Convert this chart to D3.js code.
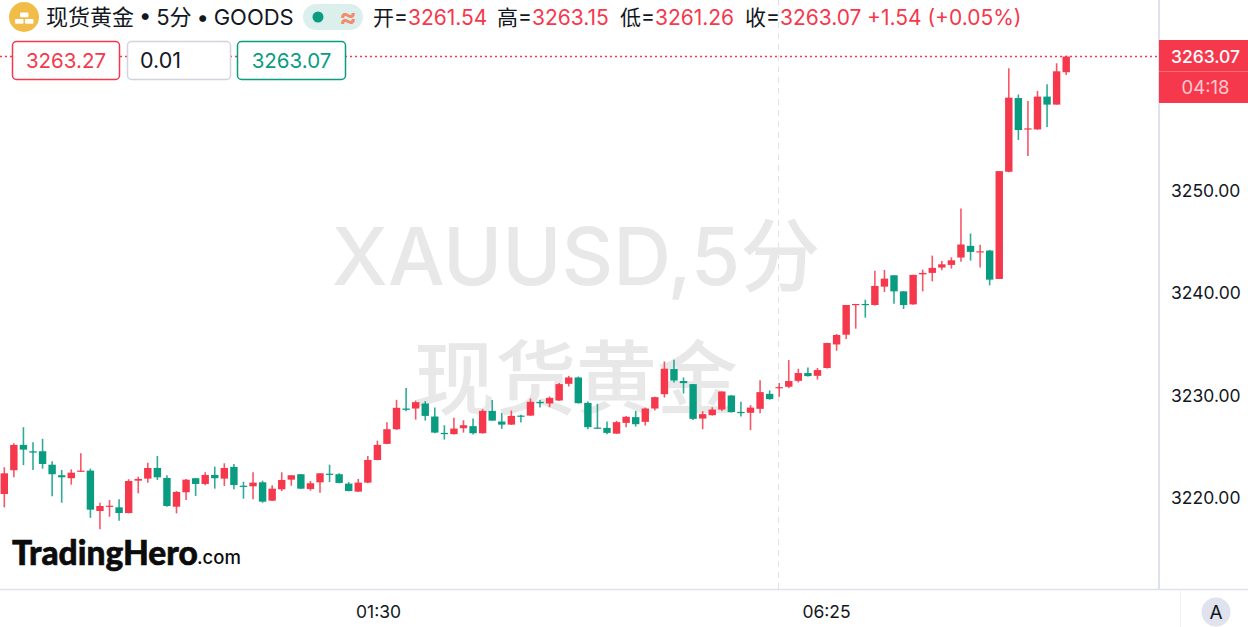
<!DOCTYPE html>
<html>
<head>
<meta charset="utf-8">
<script src="https://cdn.jsdelivr.net/npm/d3@7"></script>
<style>
  html, body { margin: 0; padding: 0; background: #fff; overflow: hidden; }
  svg { display: block; font-family: Inter, "Noto Sans CJK SC", sans-serif; }
</style>
</head>
<body>
<div id="chart"></div>
<script>
// spot gold 5 min candles
var opens = [3220.39,3222.71,3225.18,3224.56,3224.56,3223.25,3222.22,3221.93,3222.57,3222.67,3218.73,3219.15,3219.09,3218.53,3221.69,3221.89,3222.93,3221.95,3219.15,3220.56,3221.93,3221.37,3222.25,3221.89,3223.03,3221.20,3221.14,3221.53,3219.74,3220.85,3221.79,3222.32,3220.88,3221.53,3222.37,3222.32,3221.40,3220.62,3221.50,3223.71,3225.28,3226.71,3228.73,3228.73,3229.22,3227.95,3226.35,3226.23,3226.81,3227.01,3226.32,3228.50,3227.46,3227.16,3228.04,3228.04,3229.38,3229.22,3229.51,3231.14,3231.76,3229.28,3226.87,3226.84,3226.28,3227.33,3227.89,3227.43,3228.73,3230.13,3232.58,3231.41,3231.11,3227.75,3228.08,3228.63,3230.00,3228.40,3228.31,3228.70,3230.16,3230.72,3230.85,3231.43,3232.19,3231.92,3232.68,3234.98,3235.93,3238.83,3238.93,3238.83,3240.62,3241.73,3240.16,3238.89,3241.82,3241.96,3242.48,3242.74,3243.46,3244.60,3243.97,3244.14,3241.37,3251.83,3259.02,3255.96,3255.96,3259.16,3258.38,3261.54];
var highs = [3223.00,3225.35,3226.91,3225.44,3225.77,3223.59,3222.74,3222.80,3224.37,3222.86,3219.54,3219.80,3219.87,3221.83,3222.08,3223.45,3224.10,3222.22,3220.68,3221.86,3221.93,3222.51,3223.06,3223.39,3223.32,3221.59,3222.51,3221.69,3221.24,3222.51,3222.22,3222.32,3221.66,3222.41,3223.25,3222.41,3221.56,3221.86,3224.10,3225.60,3227.40,3229.58,3230.72,3229.51,3229.45,3228.82,3227.10,3227.82,3227.59,3227.75,3228.67,3229.55,3228.31,3228.53,3228.11,3229.70,3229.58,3229.90,3231.21,3231.92,3231.85,3229.41,3229.19,3227.46,3227.53,3228.01,3228.50,3228.82,3229.87,3233.32,3233.49,3231.76,3231.11,3228.47,3228.86,3230.39,3230.04,3229.38,3229.06,3231.50,3230.49,3231.21,3233.46,3232.61,3232.73,3232.68,3235.15,3236.00,3238.83,3238.93,3239.35,3242.16,3242.25,3241.73,3240.20,3241.77,3242.28,3243.65,3243.13,3243.48,3248.24,3245.80,3244.70,3244.21,3251.89,3261.93,3259.36,3258.73,3259.71,3260.36,3262.41,3263.15];
var lows = [3219.09,3222.02,3223.20,3222.74,3222.86,3220.17,3219.54,3221.30,3222.57,3218.07,3216.94,3218.17,3217.78,3218.50,3220.46,3221.50,3221.76,3219.15,3218.50,3219.80,3220.20,3221.24,3220.91,3221.17,3220.85,3219.93,3219.87,3219.54,3219.71,3220.68,3221.20,3220.88,3220.71,3220.52,3221.56,3221.44,3220.65,3220.59,3221.44,3223.68,3225.25,3226.65,3228.47,3227.65,3227.55,3226.32,3225.70,3226.19,3226.38,3226.19,3226.28,3227.53,3226.74,3227.13,3227.36,3228.01,3228.82,3228.86,3229.48,3230.88,3229.22,3226.71,3226.77,3226.23,3226.25,3226.91,3226.97,3227.07,3228.53,3229.80,3231.27,3230.19,3227.62,3226.71,3228.04,3228.50,3228.34,3227.95,3226.62,3228.28,3229.58,3229.87,3230.72,3231.27,3231.85,3231.56,3232.64,3234.37,3235.51,3236.52,3237.59,3238.79,3240.10,3238.96,3238.44,3238.86,3240.16,3241.14,3242.21,3242.38,3243.06,3243.16,3242.48,3240.75,3241.37,3251.79,3254.92,3253.36,3255.93,3256.19,3258.38,3261.26];
var closes = [3222.41,3225.18,3224.72,3224.43,3223.32,3222.32,3222.02,3222.47,3222.67,3218.86,3219.22,3219.25,3218.53,3221.66,3221.86,3222.93,3222.02,3219.22,3220.59,3221.79,3221.37,3222.25,3221.93,3222.93,3221.27,3221.08,3221.50,3219.64,3220.91,3221.76,3222.22,3220.91,3221.44,3222.41,3222.28,3221.47,3220.68,3221.50,3223.71,3225.18,3226.71,3228.80,3228.60,3229.35,3228.01,3226.38,3226.23,3226.77,3227.10,3226.32,3228.50,3227.55,3227.16,3228.01,3227.95,3229.38,3229.25,3229.77,3231.11,3231.76,3229.25,3226.91,3226.77,3226.35,3227.40,3227.92,3227.20,3228.73,3229.84,3232.61,3231.46,3231.21,3227.72,3228.18,3228.63,3230.39,3228.38,3228.28,3228.82,3230.33,3229.65,3230.82,3231.41,3232.19,3231.89,3232.48,3235.12,3235.90,3238.83,3238.93,3238.83,3240.69,3241.40,3240.16,3238.83,3241.77,3241.96,3242.45,3242.80,3243.19,3244.73,3244.01,3244.07,3241.30,3251.89,3259.06,3255.90,3256.06,3259.16,3258.38,3261.63,3263.07];

var priceTicks = [3220, 3230, 3240, 3250];
var timeLabels = ["01:30", "06:25"];
var quoteTexts = ["3263.27", "0.01", "3263.07"];
var ohlcLabels = ["开=", "高=", "低=", "收="];
var ohlcValues = ["3261.54", "3263.15", "3261.26", "3263.07"];

var width = 1248, height = 627;
var red = "#f6384c", green = "#0a9c81", ink = "#131722";

var svg = d3.select("#chart").append("svg").attr("width", width).attr("height", height);

var x = d3.scaleLinear().domain([0, opens.length - 1]).range([4.3, 1066.2]);
var y = d3.scaleLinear().domain([3220, 3250]).range([498, 190.5]);

// frame lines
svg.append("line").attr("x1", 1159).attr("x2", 1159).attr("y1", 0).attr("y2", 589).attr("stroke", "#dfe2ec").attr("stroke-width", 2);
svg.append("line").attr("x1", 0).attr("x2", width).attr("y1", 589.5).attr("y2", 589.5).attr("stroke", "#dfe2ec").attr("stroke-width", 1.5);
svg.append("line").attr("x1", 1180.5).attr("x2", 1180.5).attr("y1", 590).attr("y2", height).attr("stroke", "#f0f1f5");
svg.append("line").attr("x1", 778.5).attr("x2", 778.5).attr("y1", 0).attr("y2", 589).attr("stroke", "#e0e3ee").attr("stroke-width", 1).attr("stroke-dasharray", "6 5");

// watermark
var mark = svg.append("g").attr("fill", "#e8e8e9").attr("text-anchor", "middle").attr("font-weight", 500);
mark.append("text").attr("x", 576).attr("y", 285).attr("font-size", 80).text("XAUUSD,5分");
mark.append("text").attr("x", 576).attr("y", 408).attr("font-size", 81).text("现货黄金");

// candles
var candles = svg.append("g").selectAll("g").data(opens).join("g");
candles.append("line")
  .attr("x1", (d, i) => x(i)).attr("x2", (d, i) => x(i))
  .attr("y1", (d, i) => y(highs[i])).attr("y2", (d, i) => y(lows[i]))
  .attr("stroke", (d, i) => closes[i] >= opens[i] ? red : green)
  .attr("stroke-width", 1.6).attr("stroke-opacity", 0.85);
candles.append("rect")
  .attr("x", (d, i) => x(i) - 3.7).attr("width", 7.4)
  .attr("y", (d, i) => y(Math.max(opens[i], closes[i])))
  .attr("height", (d, i) => Math.max(1.2, Math.abs(y(opens[i]) - y(closes[i]))))
  .attr("fill", (d, i) => closes[i] >= opens[i] ? red : green);

// last price dotted line
var lastY = y(closes[closes.length - 1]);
svg.append("line").attr("x1", 0).attr("x2", 1158).attr("y1", lastY).attr("y2", lastY)
  .attr("stroke", red).attr("stroke-width", 1.5).attr("stroke-dasharray", "2 3");

// price axis
var axisY = d3.axisRight(y).tickValues(priceTicks).tickSize(0).tickPadding(0).tickFormat(d3.format(".2f"));
var gy = svg.append("g").attr("transform", "translate(1171,0)").call(axisY);
gy.select(".domain").remove();
gy.selectAll("text").attr("font-size", 17.5).attr("font-family", "Inter, sans-serif").attr("fill", ink);

// last price tag
svg.append("rect").attr("x", 1159).attr("y", 40).attr("width", 89).attr("height", 63).attr("fill", red);
svg.append("line").attr("x1", 1159).attr("x2", 1248).attr("y1", 71.5).attr("y2", 71.5).attr("stroke", "#fff").attr("stroke-opacity", 0.25);
svg.append("text").attr("x", 1205.5).attr("y", 62.5).attr("text-anchor", "middle").attr("font-size", 17.5).attr("font-weight", 500).attr("fill", "#fff").text(d3.format(".2f")(closes[closes.length - 1]));
svg.append("text").attr("x", 1205.5).attr("y", 94).attr("text-anchor", "middle").attr("font-size", 18.5).attr("fill", "#ffc9cf").text("04:18");

// time axis
var timeX = d3.scalePoint().domain(timeLabels).range([378, 826]);
var axisX = d3.axisBottom(timeX).tickSize(0).tickPadding(0);
var gx = svg.append("g").attr("transform", "translate(0,606)").call(axisX);
gx.select(".domain").remove();
gx.selectAll("text").attr("font-size", 17.5).attr("font-family", "Inter, sans-serif").attr("fill", ink);

// auto scale button
svg.append("circle").attr("cx", 1216).attr("cy", 612).attr("r", 14.5).attr("fill", "#e0e3ee");
svg.append("text").attr("x", 1216).attr("y", 619).attr("text-anchor", "middle").attr("font-size", 19).attr("fill", ink).text("A");

// header: coin icon
svg.append("circle").attr("cx", 24).attr("cy", 17).attr("r", 15).attr("fill", "#f1bd48");
[[20, 12.5], [15, 19], [25, 19]].forEach(function (p) {
  svg.append("rect").attr("x", p[0]).attr("y", p[1]).attr("width", 8.5).attr("height", 4.8).attr("rx", 1).attr("fill", "#fff");
});

svg.append("text").attr("x", 46).attr("y", 25).attr("font-size", 22).attr("word-spacing", -1.3).attr("fill", ink).text("现货黄金 • 5分 • GOODS");

// status pill
svg.append("rect").attr("x", 303).attr("y", 4).attr("width", 60).attr("height", 26).attr("rx", 13).attr("fill", "#dbf0ec");
svg.append("circle").attr("cx", 318).attr("cy", 17).attr("r", 5.5).attr("fill", green);
svg.append("text").attr("x", 348).attr("y", 26).attr("text-anchor", "middle").attr("font-size", 26).attr("font-weight", 700).attr("fill", "#f58a6c").text("≈");

// ohlc line
var ohlcX = [373, 497, 620, 745];
ohlcLabels.forEach(function (lab, i) {
  var t = svg.append("text").attr("x", ohlcX[i]).attr("y", 25).attr("font-size", 21).attr("fill", ink);
  t.append("tspan").text(lab);
  t.append("tspan").attr("fill", red).text(ohlcValues[i]);
});
svg.append("text").attr("x", 867).attr("y", 25).attr("font-size", 21).attr("fill", red).text("+1.54 (+0.05%)");

// bid / spread / ask boxes
var boxX = [12.5, 127.5, 237.5], boxW = [107, 103, 108], boxC = [red, "#d1d4dc", green], boxT = [red, ink, green];
quoteTexts.forEach(function (q, i) {
  svg.append("rect").attr("x", boxX[i]).attr("y", 41.5).attr("width", boxW[i]).attr("height", 38).attr("rx", 4)
    .attr("fill", "#fff").attr("stroke", boxC[i]).attr("stroke-width", 1.5);
  svg.append("text").attr("x", i == 1 ? 140 : boxX[i] + boxW[i] / 2).attr("y", 68)
    .attr("text-anchor", i == 1 ? "start" : "middle").attr("font-size", i == 1 ? 21.5 : 20.5).attr("fill", boxT[i]).text(q);
});

// logo
svg.append("text").attr("x", 12).attr("y", 565).attr("font-family", "Lato, sans-serif").attr("font-weight", 900).attr("font-size", 33.5).attr("stroke", "#0c0c0c").attr("stroke-width", 0.6).attr("fill", "#0c0c0c").text("TradingHero");
svg.append("text").attr("x", 197).attr("y", 564).attr("font-family", "Inter, sans-serif").attr("font-weight", 500).attr("font-size", 18.5).attr("fill", "#0c0c0c").text(".com");
</script>
</body>
</html>
